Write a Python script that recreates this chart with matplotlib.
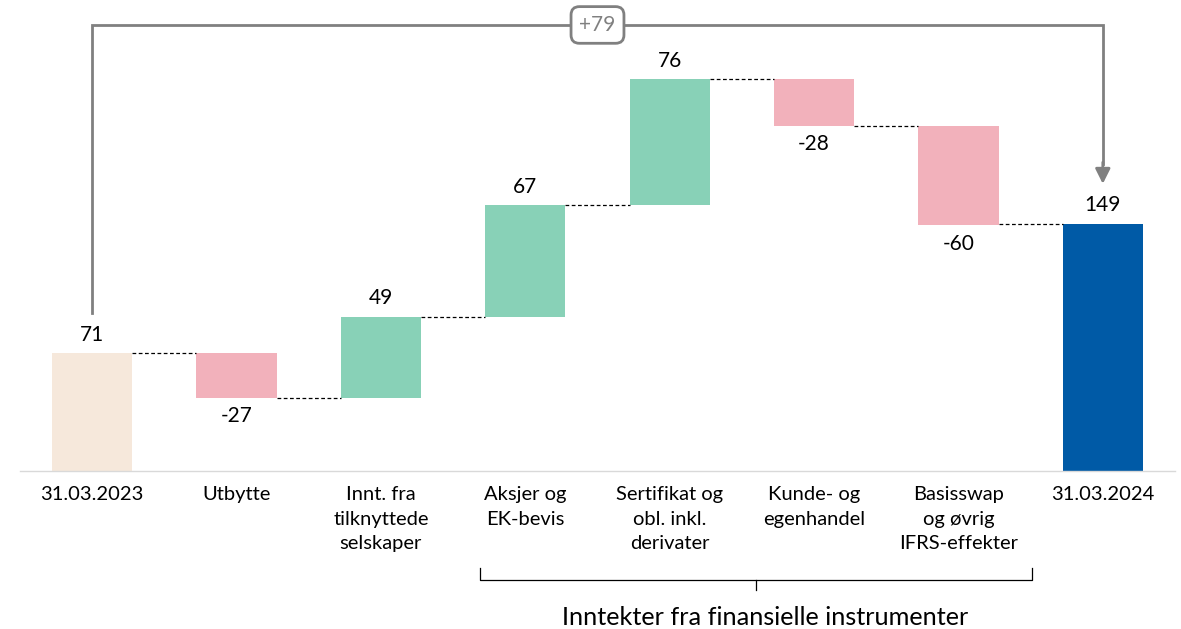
import matplotlib.pyplot as plt

plt.rcParams['font.family'] = ['Lato', 'DejaVu Sans']

categories = ["31.03.2023", "Utbytte", "Innt. fra\ntilknyttede\nselskaper",
              "Aksjer og\nEK-bevis", "Sertifikat og\nobl. inkl.\nderivater",
              "Kunde- og\negenhandel", "Basisswap\nog øvrig\nIFRS-effekter",
              "31.03.2024"]
start_value = 71
steps = [-27, 49, 67, 76, -28, -60]
end_value = 149
change_label = "+79"
group_label = "Inntekter fra finansielle instrumenter"

c_start = '#F6E8DB'
c_neg = '#F2B1BB'
c_pos = '#88D1B7'
c_end = '#005AA6'
c_gray = '#808080'

fig = plt.figure(figsize=(11.81, 6.29), dpi=100)
ax = fig.add_axes([20 / 1181, 158 / 629, 1155 / 1181, 471 / 629])
ax.set_xlim(-0.5, 7.5)
ax.set_ylim(0, 471 / 1.66)

w = 0.555
fs = 15
off = 5

# start bar
ax.bar(0, start_value, width=w, color=c_start)
ax.text(0, start_value + off, str(start_value), ha='center', va='bottom', fontsize=fs)

level = start_value
for i, s in enumerate(steps, start=1):
    if s >= 0:
        ax.bar(i, s, bottom=level, width=w, color=c_pos)
        ax.text(i, level + s + off, str(s), ha='center', va='bottom', fontsize=fs)
    else:
        ax.bar(i, -s, bottom=level + s, width=w, color=c_neg)
        ax.text(i, level + s - off, str(s), ha='center', va='top', fontsize=fs)
    # connector from previous bar
    ax.plot([i - 1 + w / 2, i - w / 2], [level, level], ls=(0, (3, 2)),
            color='black', lw=0.9)
    level += s

n = len(categories) - 1
ax.plot([n - 1 + w / 2, n - w / 2], [end_value, end_value], ls=(0, (3, 2)),
        color='black', lw=0.9)
ax.bar(n, end_value, width=w, color=c_end)
ax.text(n, end_value + off, str(end_value), ha='center', va='bottom', fontsize=fs)

# change arrow across the top
top = 268.7
ax.plot([0, 0, n, n], [95, top, top, 185], color=c_gray, lw=2,
        solid_joinstyle='miter', clip_on=False)
ax.annotate('', xy=(n, 173), xytext=(n, 186),
            arrowprops=dict(arrowstyle='-|>,head_width=0.45,head_length=0.9',
                            color=c_gray, lw=2, shrinkA=0, shrinkB=0))
ax.text(3.5, top, change_label, ha='center', va='center', fontsize=15,
        color=c_gray,
        bbox=dict(boxstyle='round,pad=0.4,rounding_size=0.4', fc='white',
                  ec=c_gray, lw=2))

# axis
ax.set_xticks(range(len(categories)))
ax.set_xticklabels(categories, fontsize=14.5, linespacing=1.52, va='top')
ax.tick_params(axis='x', length=0, pad=11)
ax.set_yticks([])
for sp in ['top', 'right', 'left']:
    ax.spines[sp].set_visible(False)
ax.spines['bottom'].set_color('#D9D9D9')
ax.spines['bottom'].set_linewidth(1)

# bracket under the financial instrument categories
xl, xr, xm = 2.686, 6.508, 4.597
y0, y1, y2 = -58.5, -65.5, -71.5
ax.plot([xl, xl, xr, xr], [y0, y1, y1, y0], color='black', lw=0.9, clip_on=False)
ax.plot([xm, xm], [y1, y2], color='black', lw=0.9, clip_on=False)
ax.text(4.66, -88.5, group_label, ha='center', va='center', fontsize=18.2,
        clip_on=False)

fig.savefig('out.png', dpi=100)
